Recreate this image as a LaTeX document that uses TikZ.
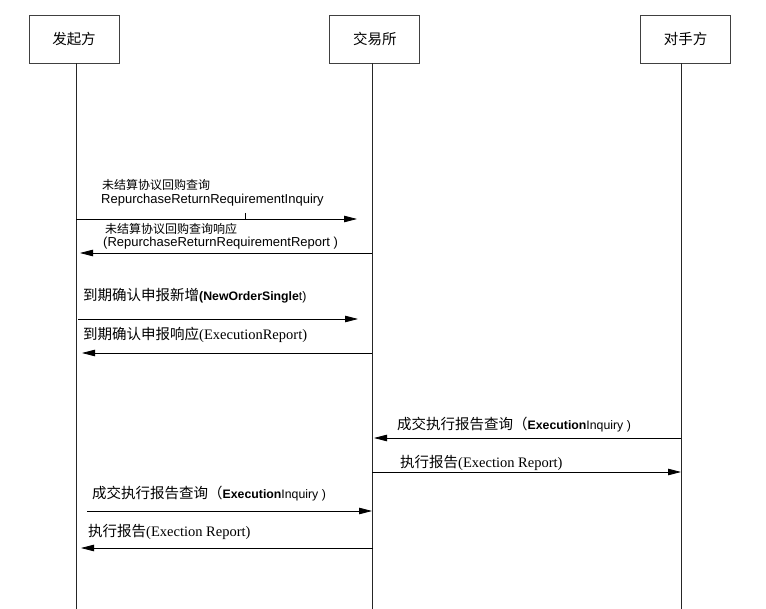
\documentclass[tikz,border=0pt]{standalone}
\usepackage{fontspec}
\setmainfont{Liberation Serif}
\setsansfont{Liberation Sans}
\newfontfamily\cjk{Noto Sans CJK SC}
\usetikzlibrary{positioning,arrows.meta,calc}
\newcommand{\zh}[1]{{\cjk #1}}
\newcommand{\bsf}[1]{{\sffamily\bfseries\fontsize{12.3}{14}\selectfont #1}}
\newcommand{\nsf}[1]{{\sffamily\fontsize{12.3}{14}\selectfont #1}}

\begin{document}
\begin{tikzpicture}[x=1pt,y=-1pt,
	actor/.style={draw=black!75,line width=0.8pt,minimum width=90pt,minimum height=48pt,inner sep=0pt,font=\cjk\fontsize{14.5}{16}\selectfont},
	life/.style={black!85,line width=0.8pt},
	msg/.style={black,line width=0.8pt,-{Triangle[length=13pt,width=6.5pt]}},
	lbl/.style={anchor=west,inner sep=0pt,font=\fontsize{14.5}{16}\selectfont},
	lblsmall/.style={anchor=west,inner sep=0pt,font=\fontsize{12}{14}\selectfont}]
	\useasboundingbox (0,0) rectangle (766,609);
	
	\node[actor] (init) at (74,39) {发起方};
	\node[actor, right=210pt of init] (exch) {交易所};
	\node[actor, right=220pt of exch] (cpty) {对手方};
	
	\coordinate (initEnd) at (76,609);
	\coordinate (exchEnd) at (372,609);
	\coordinate (cptyEnd) at (681,609);
	\draw[life] (init.south -| initEnd) -- (initEnd);
	\draw[life] (exch.south -| exchEnd) -- (exchEnd);
	\draw[life] (cpty.south -| cptyEnd) -- (cptyEnd);
	
	\coordinate (m1s) at (76,219);  \coordinate (m1e) at (357,219);
	\coordinate (m2s) at (372,253); \coordinate (m2e) at (80,253);
	\coordinate (m3s) at (78,319);  \coordinate (m3e) at (358,319);
	\coordinate (m4s) at (372,353); \coordinate (m4e) at (82,353);
	\coordinate (m5s) at (681,438); \coordinate (m5e) at (374,438);
	\coordinate (m6s) at (372,472); \coordinate (m6e) at (681,472);
	\coordinate (m7s) at (87,511);  \coordinate (m7e) at (372,511);
	\coordinate (m8s) at (373,548); \coordinate (m8e) at (81,548);
	
	\foreach \m in {1,...,8}
		\draw[msg] (m\m s) -- (m\m e);
	\draw[black,line width=0.6pt] (245,213) -- (245,219);
	
	\node[lblsmall] (t1a) at (102,185) {\zh{未结算协议回购查询}};
	\node[lblsmall, font=\sffamily\fontsize{13}{15}\selectfont] (t1b) at (101,200) {RepurchaseReturnRequirementInquiry};
	\node[lblsmall] (t2a) at (105,229) {\zh{未结算协议回购查询响应}};
	\node[lblsmall, font=\sffamily\fontsize{13}{15}\selectfont] (t2b) at (103,243) {(RepurchaseReturnRequirementReport )};
	\node[lbl] (t3) at (83,296) {\zh{到期确认申报新增}\bsf{(NewOrderSingle}\nsf{t)}};
	\node[lbl] (t4) at (83,335) {\zh{到期确认申报响应}(ExecutionReport)};
	\node[lbl] (t5) at (397,425) {\zh{成交执行报告查询（}\bsf{Execution}\nsf{Inquiry )}};
	\node[lbl] (t6) at (400,463) {\zh{执行报告}(Exection Report)};
	\node[lbl] (t7) at (92,494) {\zh{成交执行报告查询（}\bsf{Execution}\nsf{Inquiry )}};
	\node[lbl] (t8) at (88,532) {\zh{执行报告}(Exection Report)};
\end{tikzpicture}
\end{document}
